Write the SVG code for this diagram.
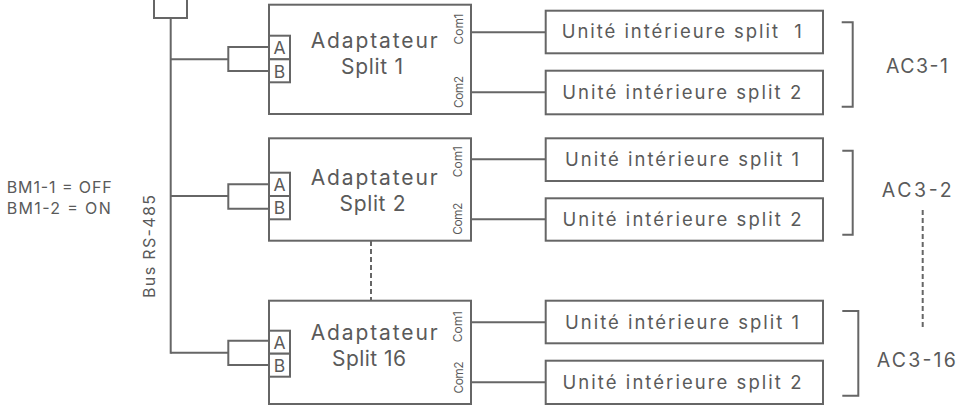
<svg xmlns="http://www.w3.org/2000/svg" width="967" height="406" viewBox="0 0 967 406">
  <style>
    .ln { fill: none; stroke: #666; stroke-width: 2; }
    .box { fill: #fff; stroke: #666; stroke-width: 2; }
    .dash { fill: none; stroke: #666; stroke-width: 2; stroke-dasharray: 5 3; }
    text { font-family: Inter, "Open Sans", "Liberation Sans", sans-serif; fill: #5a5a5a; }
    .unit { font-size: 18.5px; text-anchor: middle; }
    .adp { font-size: 21px; text-anchor: middle; }
    .port { font-size: 17.5px; text-anchor: middle; }
    .com { font-size: 12px; text-anchor: middle; }
    .ac { font-size: 19.5px; text-anchor: middle; }
    .note { font-size: 16px; }
  </style>

  <!-- RS-485 bus trunk and side labels -->
  <g id="bus">
    <rect class="box" x="154" y="-10" width="33" height="28"/>
    <line class="ln" x1="170.7" y1="18" x2="170.7" y2="353.7"/>
    <text class="note" x="155" y="246.5" text-anchor="middle" textLength="103" lengthAdjust="spacing" transform="rotate(-90 155 246.5)">Bus RS-485</text>
  </g>
  <g id="dip-settings">
    <text class="note" x="6.7" y="192.7" textLength="105" lengthAdjust="spacing">BM1-1 = OFF</text>
    <text class="note" x="6.7" y="214.3" textLength="104" lengthAdjust="spacing">BM1-2 = ON</text>
  </g>

  <!-- wiring between bus, adapters and indoor units -->
  <g id="connectors">
    <!-- adapter 1 -->
    <polyline class="ln" points="170.7,59.3 228.3,59.3"/>
    <polyline class="ln" points="269,47 228.3,47 228.3,71 269,71"/>
    <line class="ln" x1="471" y1="32.3" x2="545.7" y2="32.3"/>
    <line class="ln" x1="471" y1="92.3" x2="545.7" y2="92.3"/>
    <!-- adapter 2 -->
    <polyline class="ln" points="170.7,196 228.3,196"/>
    <polyline class="ln" points="269,184.3 228.3,184.3 228.3,208.7 269,208.7"/>
    <line class="ln" x1="471" y1="159.3" x2="545.7" y2="159.3"/>
    <line class="ln" x1="471" y1="219.3" x2="545.7" y2="219.3"/>
    <!-- adapter 16 -->
    <polyline class="ln" points="170.7,352.7 228.3,352.7"/>
    <polyline class="ln" points="269,340.7 228.3,340.7 228.3,365 269,365"/>
    <line class="ln" x1="471" y1="322.3" x2="545.7" y2="322.3"/>
    <line class="ln" x1="471" y1="382.3" x2="545.7" y2="382.3"/>
    <!-- continuation marks -->
    <line class="dash" x1="371" y1="241" x2="371" y2="300"/>
    <line class="dash" x1="922.7" y1="210" x2="922.7" y2="327"/>
    <!-- group brackets -->
    <polyline class="ln" points="841.7,22.3 852.7,22.3 852.7,106.7 841.7,106.7"/>
    <polyline class="ln" points="842.3,150.7 852.7,150.7 852.7,234.7 842.3,234.7"/>
    <polyline class="ln" points="842.3,311 858.3,311 858.3,395.7 842.3,395.7"/>
  </g>

  <!-- adapters -->
  <g id="adapter-1">
    <rect class="box" x="269" y="4.7" width="202" height="109.3"/>
    <rect class="box" x="269" y="35.7" width="21" height="23.6"/>
    <rect class="box" x="269" y="59.3" width="21" height="23"/>
    <text class="port" x="279.5" y="54">A</text>
    <text class="port" x="279.5" y="77.5">B</text>
    <text class="adp" x="374.2" y="48.3" textLength="127" lengthAdjust="spacing">Adaptateur</text>
    <text class="adp" x="372" y="74.3" textLength="62" lengthAdjust="spacing">Split 1</text>
    <text class="com" x="462.5" y="29" textLength="31" lengthAdjust="spacing" transform="rotate(-90 462.5 29)">Com1</text>
    <text class="com" x="462.5" y="92" textLength="32" lengthAdjust="spacing" transform="rotate(-90 462.5 92)">Com2</text>
  </g>
  <g id="adapter-2">
    <rect class="box" x="269" y="138.3" width="202" height="102.4"/>
    <rect class="box" x="269" y="172.7" width="21" height="23.3"/>
    <rect class="box" x="269" y="196" width="21" height="23.3"/>
    <text class="port" x="279.5" y="191">A</text>
    <text class="port" x="279.5" y="214.3">B</text>
    <text class="adp" x="374.2" y="184.5" textLength="127" lengthAdjust="spacing">Adaptateur</text>
    <text class="adp" x="372.5" y="210.5" textLength="66" lengthAdjust="spacing">Split 2</text>
    <text class="com" x="462.5" y="161.7" textLength="31" lengthAdjust="spacing" transform="rotate(-90 462.5 161.7)">Com1</text>
    <text class="com" x="462.5" y="218.7" textLength="32" lengthAdjust="spacing" transform="rotate(-90 462.5 218.7)">Com2</text>
  </g>
  <g id="adapter-16">
    <rect class="box" x="269" y="300.7" width="202" height="103.3"/>
    <rect class="box" x="269" y="330.7" width="21" height="23"/>
    <rect class="box" x="269" y="353.7" width="21" height="23"/>
    <text class="port" x="279.5" y="348.8">A</text>
    <text class="port" x="279.5" y="371.8">B</text>
    <text class="adp" x="374.2" y="339.5" textLength="127" lengthAdjust="spacing">Adaptateur</text>
    <text class="adp" x="369" y="365.5" textLength="74" lengthAdjust="spacing">Split 16</text>
    <text class="com" x="462.5" y="326.7" textLength="31" lengthAdjust="spacing" transform="rotate(-90 462.5 326.7)">Com1</text>
    <text class="com" x="462.5" y="377.5" textLength="32" lengthAdjust="spacing" transform="rotate(-90 462.5 377.5)">Com2</text>
  </g>

  <!-- indoor units -->
  <g id="unit-1-1">
    <rect class="box" x="545.7" y="10.7" width="277.3" height="42.6"/>
    <text class="unit" x="681.7" y="38" textLength="240" lengthAdjust="spacing" xml:space="preserve">Unité intérieure split  1</text>
  </g>
  <g id="unit-1-2">
    <rect class="box" x="545.7" y="70.7" width="277.3" height="43.6"/>
    <text class="unit" x="681.7" y="98.5" textLength="239" lengthAdjust="spacing">Unité intérieure split 2</text>
  </g>
  <g id="unit-2-1">
    <rect class="box" x="545.7" y="138.3" width="277.3" height="42.7"/>
    <text class="unit" x="682" y="165.5" textLength="234" lengthAdjust="spacing">Unité intérieure split 1</text>
  </g>
  <g id="unit-2-2">
    <rect class="box" x="545.7" y="198.3" width="277.3" height="42.4"/>
    <text class="unit" x="682" y="225.5" textLength="239" lengthAdjust="spacing">Unité intérieure split 2</text>
  </g>
  <g id="unit-16-1">
    <rect class="box" x="545.7" y="300.7" width="277.3" height="42.6"/>
    <text class="unit" x="682" y="328.5" textLength="234" lengthAdjust="spacing">Unité intérieure split 1</text>
  </g>
  <g id="unit-16-2">
    <rect class="box" x="545.7" y="360.7" width="277.3" height="43.3"/>
    <text class="unit" x="682" y="388.5" textLength="239" lengthAdjust="spacing">Unité intérieure split 2</text>
  </g>

  <!-- group labels -->
  <g id="labels">
    <text class="ac" x="917" y="72.5" textLength="62" lengthAdjust="spacing">AC3-1</text>
    <text class="ac" x="916.7" y="196.7" textLength="70" lengthAdjust="spacing">AC3-2</text>
    <text class="ac" x="916.3" y="367" textLength="79" lengthAdjust="spacing">AC3-16</text>
  </g>
</svg>
